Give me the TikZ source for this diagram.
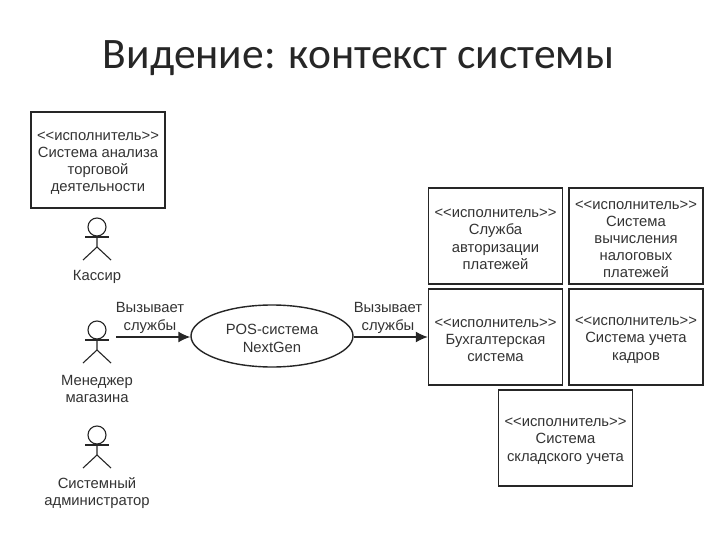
\documentclass[tikz,border=0pt]{standalone}
\usepackage{fontspec}
\setmainfont{Liberation Sans}
\newfontfamily\titlefont{Carlito}
\usetikzlibrary{arrows.meta,shapes.geometric}
\newcommand{\ispol}{\rule{0pt}{15pt}<{}<исполнитель>{}>}
\tikzset{
  actorbox/.style={draw=black!85,line width=1.4pt,rectangle,minimum width=134pt,minimum height=96pt,inner sep=0pt,align=center,font=\fontsize{14.8}{17.2}\selectfont,text=black!80},
  uclabel/.style={align=center,font=\fontsize{14.8}{17.6}\selectfont,text=black!80,inner sep=0pt},
  head/.style={draw=black!85,circle,line width=1.1pt,minimum size=18pt,inner sep=0pt},
  limb/.style={draw=black!85,line width=1.1pt},
  call/.style={draw=black!85,line width=1.4pt,-{Latex[length=12pt,width=11pt]}}
}
\newcommand{\stick}[2]{%
  \node[head] (h#1) at (97,#2) {};
  \coordinate (a#1l) at (85,#2+10);
  \coordinate (a#1r) at (109,#2+10);
  \coordinate (b#1) at (97,#2+20);
  \coordinate (f#1l) at (83,#2+33);
  \coordinate (f#1r) at (111,#2+33);
  \draw[limb] (h#1.south) -- (b#1) -- (f#1l);
  \draw[limb] (b#1) -- (f#1r);
  \draw[limb] (a#1l) -- (a#1r);
}
\begin{document}
\begin{tikzpicture}[x=1pt,y=-1pt]
\useasboundingbox (0,0) rectangle (720,540);
\fill[white] (0,0) rectangle (720,540);
\node[font=\titlefont\fontsize{43.5}{50}\selectfont,text=black!85,inner sep=0pt] (title) at (358.5,58.5) {Видение: контекст системы};
\node[actorbox] (b1) at (98,160) {\ispol\\Система анализа\\торговой\\деятельности};
\node[actorbox] (b2) at (495.5,236) {\ispol\\Служба\\авторизации\\платежей};
\node[actorbox] (b3) at (636,236) {\ispol\\Система\\вычисления\\налоговых\\платежей};
\node[actorbox] (b4) at (495.5,337) {\ispol\\Бухгалтерская\\система};
\node[actorbox] (b5) at (636,337) {\ispol\\Система учета\\кадров};
\node[actorbox] (b6) at (565.5,438) {\ispol\\Система\\складского учета};
\stick{1}{227}
\stick{2}{330}
\stick{3}{435}
\node[uclabel] (l1) at (97,277) {Кассир};
\node[uclabel] (l2) at (97,389) {Менеджер\\магазина};
\node[uclabel] (l3) at (97,493) {Системный\\администратор};
\node[draw=black!85,line width=1.4pt,ellipse,minimum width=162pt,minimum height=62pt,inner sep=0pt,align=center,font=\fontsize{14.8}{17.6}\selectfont,text=black!80] (uc) at (272,336) {\rule{0pt}{15pt}POS-система\\NextGen};
\coordinate (start) at (116,337);
\draw[call] (start) -- (uc.west |- start);
\draw[call] (uc.east |- b4.west) -- (b4.west);
\node[uclabel] (c1) at (150,318) {Вызывает\\службы};
\node[uclabel] (c2) at (388,318) {Вызывает\\службы};
\end{tikzpicture}
\end{document}
